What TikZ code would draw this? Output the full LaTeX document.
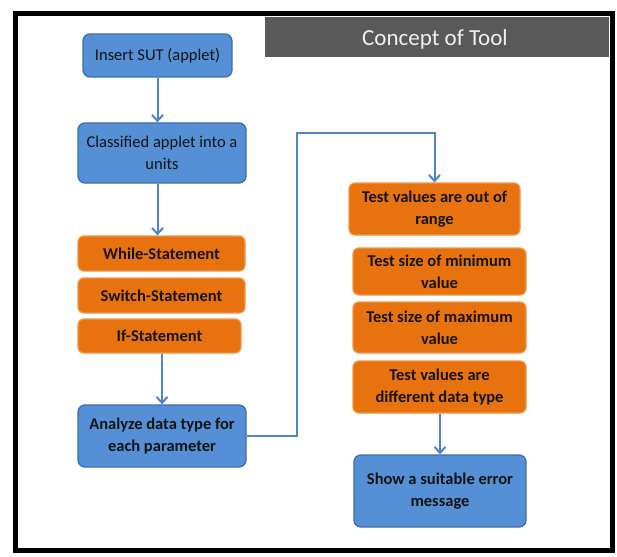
\documentclass[tikz,border=0pt]{standalone}
\usepackage{fontspec}
\setmainfont{Carlito}
\usetikzlibrary{arrows.meta}
\definecolor{boxblue}{HTML}{5590D6}
\definecolor{edgeblue}{HTML}{3E6DAE}
\definecolor{boxorange}{HTML}{E8730E}
\definecolor{edgeorange}{HTML}{F0954A}
\definecolor{linkblue}{HTML}{4F85C6}
\definecolor{titlegray}{HTML}{595959}
\definecolor{ink}{HTML}{141414}
\tikzset{
  boxfont/.style={font=\fontsize{16.5}{22}\selectfont},
  boldfont/.style={font=\fontsize{16.5}{22}\selectfont\bfseries},
  bluebox/.style={draw=edgeblue, line width=1.3pt, fill=boxblue, rounded corners=7pt,
    text=ink, align=center, inner sep=2pt, boxfont},
  orangebox/.style={draw=edgeorange, line width=1.2pt, fill=boxorange, rounded corners=6pt,
    text=ink, align=center, inner sep=2pt, boldfont},
  link/.style={draw=linkblue, line width=2pt, -{Straight Barb[length=6pt,width=11pt,line width=2pt]}},
}
\begin{document}
\begin{tikzpicture}[x=1pt,y=-1pt]
\useasboundingbox (0,0) rectangle (617,556);
\fill[white] (0,0) rectangle (617,556);

% frame and title bar
\draw[black, line width=5pt] (15,13.5) rectangle (612.5,550.5);
\fill[titlegray] (265,17) rectangle (609,57);
\node[text=white!94!black, font=\fontsize{23}{27}\selectfont] (title) at (435,39) {Concept of Tool};

% left column
\node[bluebox, minimum width=149pt, minimum height=43pt] (ins) at (157.5,55.5) {Insert SUT (applet)};
\node[bluebox, minimum width=168pt, minimum height=60pt] (cls) at (162,153) {Classified applet into a\\units};
\node[orangebox, minimum width=167pt, minimum height=35pt] (while) at (161.5,253.5) {While-Statement};
\node[orangebox, minimum width=167pt, minimum height=35pt] (switch) at (161.5,295.5) {Switch-Statement};
\node[orangebox, minimum width=163pt, minimum height=34pt] (if) at (159.5,336) {If-Statement};
\node[bluebox, boldfont, minimum width=168pt, minimum height=62pt] (ana) at (162,436) {Analyze data type for\\each parameter};

% right column
\node[orangebox, minimum width=171pt, minimum height=52pt] (oor) at (434.5,209) {Test values are out of\\range};
\node[orangebox, minimum width=173pt, minimum height=47pt] (min) at (439.5,271.5) {Test size of minimum\\value};
\node[orangebox, minimum width=173pt, minimum height=51pt] (max) at (439.5,327.5) {Test size of maximum\\value};
\node[orangebox, minimum width=173pt, minimum height=52pt] (dif) at (439.5,387) {Test values are\\different data type};
\node[bluebox, boldfont, minimum width=172pt, minimum height=72pt] (show) at (440,491) {Show a suitable error\\message};

% connectors
\coordinate (bend) at (297,133);
\draw[link] (ins.south) -- (ins.south |- cls.north);
\draw[link] (ins.south |- cls.south) -- (ins.south |- while.north);
\draw[link] (ana.north |- if.south) -- (ana.north);
\draw[link] (ana.east) -| (bend) -| (oor.north);
\draw[link] (show.north |- dif.south) -- (show.north);
\end{tikzpicture}
\end{document}
